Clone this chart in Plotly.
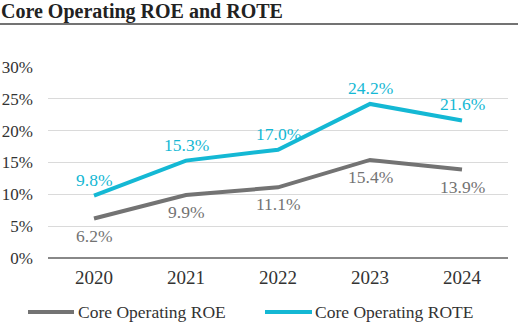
import plotly.graph_objects as go

years = ["2020", "2021", "2022", "2023", "2024"]
roe = [6.2, 9.9, 11.1, 15.4, 13.9]
rote = [9.8, 15.3, 17.0, 24.2, 21.6]
names = ["Core Operating ROE", "Core Operating ROTE"]
colors = ["#737373", "#14B8D4"]
title = "Core Operating ROE and ROTE"

FONT = "Liberation Serif"
W, H = 518, 323
ml, mr, mt, mb = 48, 10, 67, 65
pw = W - ml - mr
ph = H - mt - mb

fig = go.Figure()
for vals, name, col in zip([roe, rote], names, colors):
    fig.add_trace(go.Scatter(x=years, y=vals, mode="lines", name=name,
                             line=dict(color=col, width=4), showlegend=False,
                             hoverinfo="skip"))

anns = []
for vals, col, shift in [(rote, colors[1], 16), (roe, colors[0], -17)]:
    for i, v in enumerate(vals):
        anns.append(dict(x=i, y=v, xref="x", yref="y", text=f"{v:.1f}%",
                         showarrow=False, yshift=shift, xanchor="center",
                         yanchor="middle",
                         font=dict(family=FONT, size=17.5, color=col)))

anns.append(dict(x=-ml / pw, y=1 + (mt - 12) / ph, xref="paper", yref="paper",
                 text=f"<b>{title}</b>", showarrow=False, xanchor="left",
                 yanchor="middle", xshift=-1,
                 font=dict(family=FONT, size=20, color="#222222")))

shapes = [dict(type="line", xref="paper", yref="paper",
               x0=-ml / pw, x1=(W - ml) / pw,
               y0=1 + (mt - 24) / ph, y1=1 + (mt - 24) / ph,
               line=dict(color="#444444", width=1.5))]

leg_y = -(312 - (H - mb)) / ph
leg_items = [(28, 74, 76), (265, 312, 313)]
for (x0, x1, xt), name, col in zip(leg_items, names, colors):
    shapes.append(dict(type="line", xref="paper", yref="paper",
                       x0=(x0 - ml) / pw, x1=(x1 - ml) / pw, y0=leg_y, y1=leg_y,
                       line=dict(color=col, width=4)))
    anns.append(dict(x=(xt - ml) / pw, y=leg_y, xref="paper", yref="paper",
                     text=name, showarrow=False, xanchor="left", yanchor="middle",
                     font=dict(family=FONT, size=17.5, color="#333333")))

fig.update_layout(
    template="none",
    width=W, height=H,
    margin=dict(l=ml, r=mr, t=mt, b=mb, pad=0),
    paper_bgcolor="white", plot_bgcolor="white",
    font=dict(family=FONT, size=17, color="#333333"),
    annotations=anns, shapes=shapes,
    xaxis=dict(type="category", range=[-0.5, 4.5], showgrid=False, automargin=False,
               showline=False, ticks="", ticklabelstandoff=6, zeroline=False,
               tickfont=dict(family=FONT, size=19, color="#333333")),
    yaxis=dict(range=[0, 30], dtick=5, ticksuffix="%", showgrid=True, automargin=False,
               gridcolor="#DADADA", gridwidth=1, zeroline=True,
               zerolinecolor="#888888", zerolinewidth=1.5, showline=False,
               ticks="", ticklabelstandoff=14,
               tickfont=dict(family=FONT, size=17, color="#333333")),
)

fig.write_html("out.html")
